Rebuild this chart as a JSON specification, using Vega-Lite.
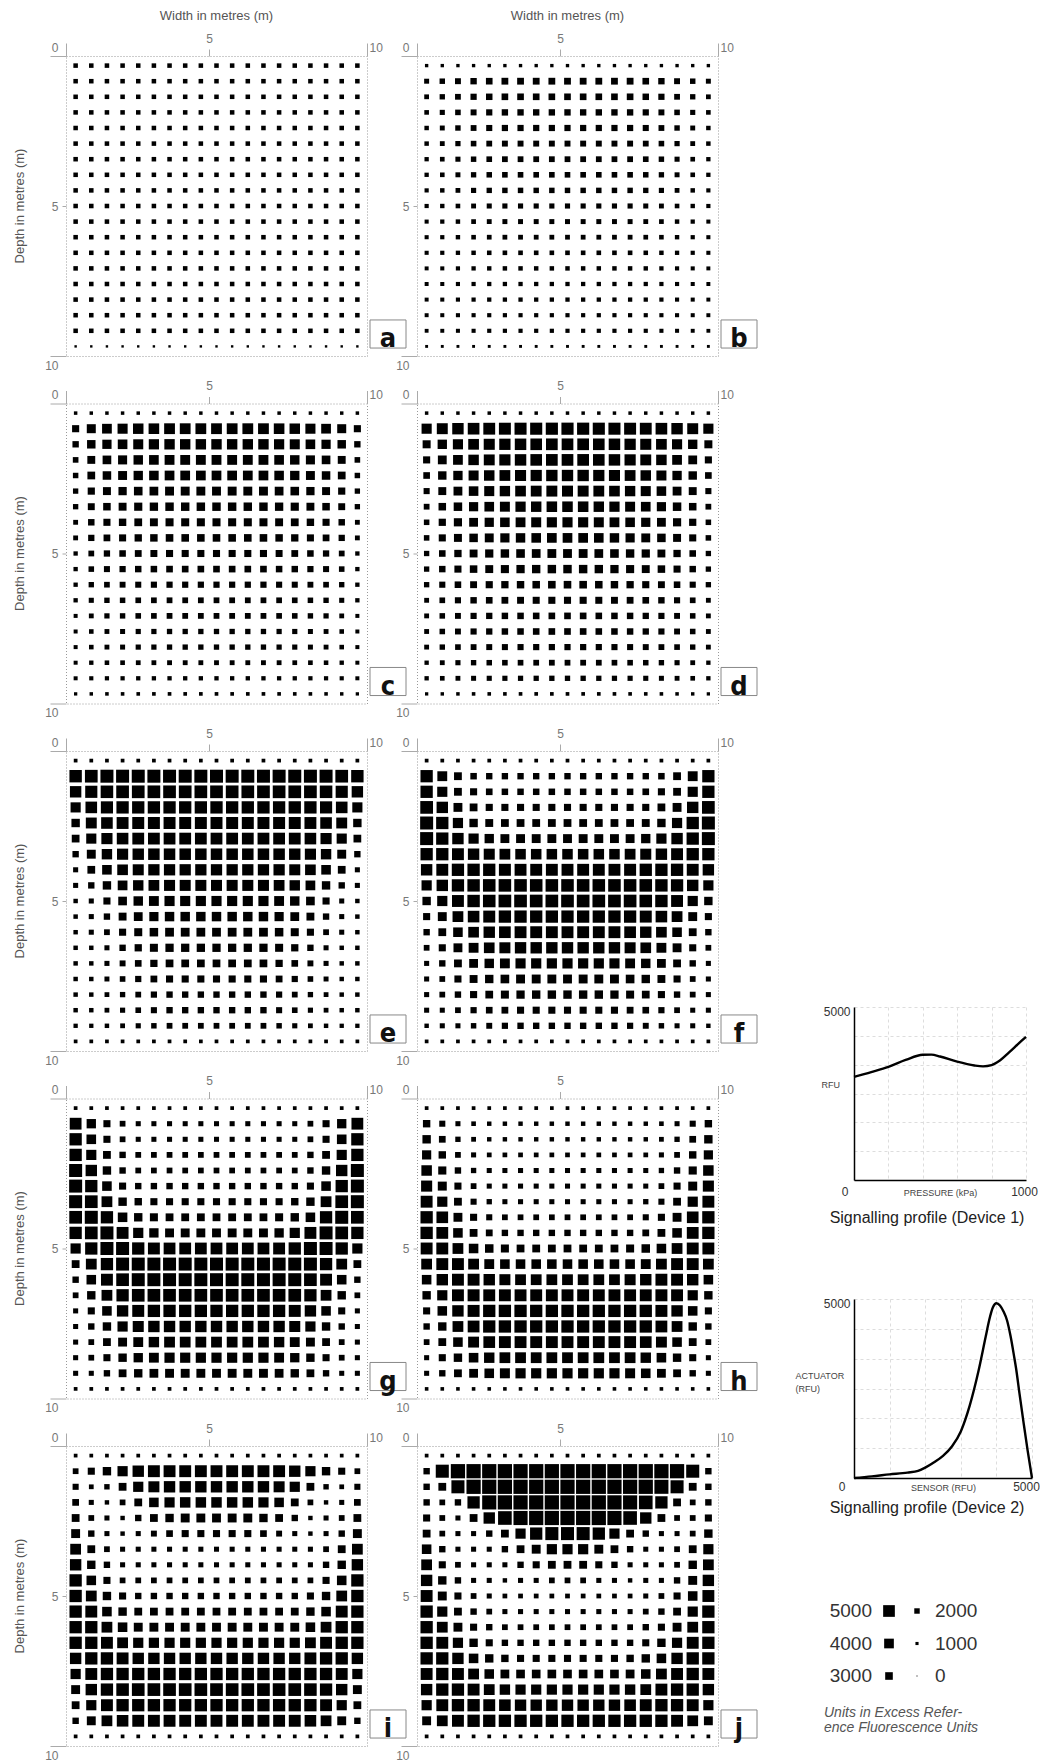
{
"$schema": "https://vega.github.io/schema/vega-lite/v6.json",
"padding": {"left": 13, "top": 10, "right": 0, "bottom": 0},
"background": "white",
"config": {
  "view": {"stroke": "#999", "strokeDash": [1, 2], "strokeWidth": 1},
  "font": "Liberation Sans",
  "axis": {"labelFont": "Liberation Sans", "titleFont": "Liberation Sans"},
  "header": {"labelFont": "Liberation Sans"},
  "title": {"font": "Liberation Sans"}
},
"datasets": {
  "cols": [{"col":1,"x":0.32},{"col":2,"x":0.84},{"col":3,"x":1.36},{"col":4,"x":1.88},{"col":5,"x":2.4},{"col":6,"x":2.92},{"col":7,"x":3.44},{"col":8,"x":3.96},{"col":9,"x":4.48},{"col":10,"x":5},{"col":11,"x":5.52},{"col":12,"x":6.04},{"col":13,"x":6.56},{"col":14,"x":7.08},{"col":15,"x":7.6},{"col":16,"x":8.12},{"col":17,"x":8.64},{"col":18,"x":9.16},{"col":19,"x":9.68}],
  "panels": [{"p":"a","r":1,"c":1},{"p":"b","r":1,"c":2},{"p":"c","r":2,"c":1},{"p":"d","r":2,"c":2},{"p":"e","r":3,"c":1},{"p":"f","r":3,"c":2},{"p":"g","r":4,"c":1},{"p":"h","r":4,"c":2},{"p":"i","r":5,"c":1},{"p":"j","r":5,"c":2}],
  "one": [{}],
  "legend": [{"v":5000,"side":"L","k":1},{"v":4000,"side":"L","k":2},{"v":3000,"side":"L","k":3},{"v":2000,"side":"R","k":1},{"v":1000,"side":"R","k":2},{"v":0,"side":"R","k":3}],
  "dev1": [{"pressure":0,"rfu":2980},{"pressure":100,"rfu":3120},{"pressure":200,"rfu":3270},{"pressure":300,"rfu":3470},{"pressure":400,"rfu":3620},{"pressure":450,"rfu":3625},{"pressure":500,"rfu":3570},{"pressure":600,"rfu":3420},{"pressure":700,"rfu":3310},{"pressure":750,"rfu":3285},{"pressure":800,"rfu":3320},{"pressure":850,"rfu":3460},{"pressure":900,"rfu":3680},{"pressure":950,"rfu":3910},{"pressure":1000,"rfu":4140}],
  "dev2": [{"sensor":0,"actuator":0},{"sensor":500,"actuator":45},{"sensor":1000,"actuator":100},{"sensor":1500,"actuator":150},{"sensor":1800,"actuator":200},{"sensor":2000,"actuator":290},{"sensor":2250,"actuator":440},{"sensor":2500,"actuator":620},{"sensor":2750,"actuator":880},{"sensor":3000,"actuator":1300},{"sensor":3250,"actuator":2020},{"sensor":3500,"actuator":3000},{"sensor":3700,"actuator":3950},{"sensor":3800,"actuator":4420},{"sensor":3900,"actuator":4760},{"sensor":4000,"actuator":4880},{"sensor":4100,"actuator":4820},{"sensor":4200,"actuator":4650},{"sensor":4300,"actuator":4400},{"sensor":4400,"actuator":3950},{"sensor":4500,"actuator":3380},{"sensor":4550,"actuator":3080},{"sensor":4650,"actuator":2350},{"sensor":4770,"actuator":1500},{"sensor":4880,"actuator":750},{"sensor":5000,"actuator":0}],
  "grid": [
{"p":"a","y":0.32,"v":[1600,1600,1600,1600,1600,1600,1600,1600,1600,1600,1600,1600,1600,1600,1600,1600,1600,1600,1600]},
{"p":"a","y":0.84,"v":[1600,1600,1600,1600,1600,1600,1600,1600,1600,1600,1600,1600,1600,1600,1600,1600,1600,1600,1600]},
{"p":"a","y":1.36,"v":[1600,1600,1600,1600,1600,1600,1600,1600,1600,1600,1600,1600,1600,1600,1600,1600,1600,1600,1600]},
{"p":"a","y":1.88,"v":[1600,1600,1600,1600,1600,1600,1600,1600,1600,1600,1600,1600,1600,1600,1600,1600,1600,1600,1600]},
{"p":"a","y":2.4,"v":[1600,1600,1600,1600,1600,1600,1600,1600,1600,1600,1600,1600,1600,1600,1600,1600,1600,1600,1600]},
{"p":"a","y":2.92,"v":[1600,1600,1600,1600,1600,1600,1600,1600,1600,1600,1600,1600,1600,1600,1600,1600,1600,1600,1600]},
{"p":"a","y":3.44,"v":[1600,1600,1600,1600,1600,1600,1600,1600,1600,1600,1600,1600,1600,1600,1600,1600,1600,1600,1600]},
{"p":"a","y":3.96,"v":[1600,1600,1600,1600,1600,1600,1600,1600,1600,1600,1600,1600,1600,1600,1600,1600,1600,1600,1600]},
{"p":"a","y":4.48,"v":[1600,1600,1600,1600,1600,1600,1600,1600,1600,1600,1600,1600,1600,1600,1600,1600,1600,1600,1600]},
{"p":"a","y":5,"v":[1600,1600,1600,1600,1600,1600,1600,1600,1600,1600,1600,1600,1600,1600,1600,1600,1600,1600,1600]},
{"p":"a","y":5.52,"v":[1600,1600,1600,1600,1600,1600,1600,1600,1600,1600,1600,1600,1600,1600,1600,1600,1600,1600,1600]},
{"p":"a","y":6.04,"v":[1600,1600,1600,1600,1600,1600,1600,1600,1600,1600,1600,1600,1600,1600,1600,1600,1600,1600,1600]},
{"p":"a","y":6.56,"v":[1600,1600,1600,1600,1600,1600,1600,1600,1600,1600,1600,1600,1600,1600,1600,1600,1600,1600,1600]},
{"p":"a","y":7.08,"v":[1600,1600,1600,1600,1600,1600,1600,1600,1600,1600,1600,1600,1600,1600,1600,1600,1600,1600,1600]},
{"p":"a","y":7.6,"v":[1600,1600,1600,1600,1600,1600,1600,1600,1600,1600,1600,1600,1600,1600,1600,1600,1600,1600,1600]},
{"p":"a","y":8.12,"v":[1600,1600,1600,1600,1600,1600,1600,1600,1600,1600,1600,1600,1600,1600,1600,1600,1600,1600,1600]},
{"p":"a","y":8.64,"v":[1600,1600,1600,1600,1600,1600,1600,1600,1600,1600,1600,1600,1600,1600,1600,1600,1600,1600,1600]},
{"p":"a","y":9.16,"v":[1600,1600,1600,1600,1600,1600,1600,1600,1600,1600,1600,1600,1600,1600,1600,1600,1600,1600,1600]},
{"p":"a","y":9.68,"v":[700,700,700,700,700,700,700,700,700,700,700,700,700,700,700,700,700,700,700]},
{"p":"b","y":0.32,"v":[1100,1100,1100,1100,1100,1100,1100,1100,1100,1100,1100,1100,1100,1100,1100,1100,1100,1100,1100]},
{"p":"b","y":0.84,"v":[1790,2010,2220,2420,2535,2620,2620,2620,2620,2620,2620,2620,2620,2620,2535,2420,2220,2010,1790]},
{"p":"b","y":1.36,"v":[1710,1950,2150,2350,2470,2550,2550,2550,2550,2550,2550,2550,2550,2550,2470,2350,2150,1950,1710]},
{"p":"b","y":1.88,"v":[1640,1860,2055,2235,2350,2420,2420,2420,2420,2420,2420,2420,2420,2420,2350,2235,2055,1860,1640]},
{"p":"b","y":2.4,"v":[1570,1770,1985,2165,2290,2350,2350,2350,2350,2350,2350,2350,2350,2350,2290,2165,1985,1770,1570]},
{"p":"b","y":2.92,"v":[1570,1725,1910,2070,2165,2220,2220,2220,2220,2220,2220,2220,2220,2220,2165,2070,1910,1725,1570]},
{"p":"b","y":3.44,"v":[1500,1655,1845,2000,2095,2150,2150,2150,2150,2150,2150,2150,2150,2150,2095,2000,1845,1655,1500]},
{"p":"b","y":3.96,"v":[1500,1640,1790,1950,2025,2080,2080,2080,2080,2080,2080,2080,2080,2080,2025,1950,1790,1640,1500]},
{"p":"b","y":4.48,"v":[1450,1570,1710,1870,1960,2010,2010,2010,2010,2010,2010,2010,2010,2010,1960,1870,1710,1570,1450]},
{"p":"b","y":5,"v":[1450,1540,1640,1755,1830,1870,1870,1870,1870,1870,1870,1870,1870,1870,1830,1755,1640,1540,1450]},
{"p":"b","y":5.52,"v":[1400,1480,1570,1680,1740,1790,1790,1790,1790,1790,1790,1790,1790,1790,1740,1680,1570,1480,1400]},
{"p":"b","y":6.04,"v":[1400,1460,1540,1625,1680,1710,1710,1710,1710,1710,1710,1710,1710,1710,1680,1625,1540,1460,1400]},
{"p":"b","y":6.56,"v":[1400,1450,1500,1570,1610,1640,1640,1640,1640,1640,1640,1640,1640,1640,1610,1570,1500,1450,1400]},
{"p":"b","y":7.08,"v":[1350,1400,1450,1500,1540,1570,1570,1570,1570,1570,1570,1570,1570,1570,1540,1500,1450,1400,1350]},
{"p":"b","y":7.6,"v":[1350,1390,1430,1460,1490,1500,1500,1500,1500,1500,1500,1500,1500,1500,1490,1460,1430,1390,1350]},
{"p":"b","y":8.12,"v":[1350,1390,1430,1460,1490,1500,1500,1500,1500,1500,1500,1500,1500,1500,1490,1460,1430,1390,1350]},
{"p":"b","y":8.64,"v":[1350,1380,1400,1430,1440,1450,1450,1450,1450,1450,1450,1450,1450,1450,1440,1430,1400,1380,1350]},
{"p":"b","y":9.16,"v":[1300,1340,1380,1410,1440,1450,1450,1450,1450,1450,1450,1450,1450,1450,1440,1410,1380,1340,1300]},
{"p":"b","y":9.68,"v":[900,900,900,900,900,900,900,900,900,900,900,900,900,900,900,900,900,900,900]},
{"p":"c","y":0.32,"v":[1150,1150,1150,1150,1150,1150,1150,1150,1150,1150,1150,1150,1150,1150,1150,1150,1150,1150,1150]},
{"p":"c","y":0.84,"v":[2760,3660,4020,4190,4375,4450,4540,4540,4540,4540,4540,4540,4540,4450,4375,4190,4020,3660,2760]},
{"p":"c","y":1.36,"v":[2420,3405,3775,3965,4160,4260,4350,4350,4350,4350,4350,4350,4350,4260,4160,3965,3775,3405,2420]},
{"p":"c","y":1.88,"v":[2080,3130,3500,3690,3880,3990,4080,4080,4080,4080,4080,4080,4080,3990,3880,3690,3500,3130,2080]},
{"p":"c","y":2.4,"v":[2010,3060,3430,3620,3820,3930,4020,4020,4020,4020,4020,4020,4020,3930,3820,3620,3430,3060,2010]},
{"p":"c","y":2.92,"v":[1950,2800,3160,3310,3465,3545,3620,3620,3620,3620,3620,3620,3620,3545,3465,3310,3160,2800,1950]},
{"p":"c","y":3.44,"v":[1950,2675,2960,3140,3260,3335,3395,3395,3395,3395,3395,3395,3395,3335,3260,3140,2960,2675,1950]},
{"p":"c","y":3.96,"v":[1740,2470,2760,2900,3075,3140,3200,3200,3200,3200,3200,3200,3200,3140,3075,2900,2760,2470,1740]},
{"p":"c","y":4.48,"v":[1740,2380,2605,2735,2860,2930,2990,2990,2990,2990,2990,2990,2990,2930,2860,2735,2605,2380,1740]},
{"p":"c","y":5,"v":[1510,2150,2390,2495,2620,2690,2750,2750,2750,2750,2750,2750,2750,2690,2620,2495,2390,2150,1510]},
{"p":"c","y":5.52,"v":[1510,2055,2260,2350,2460,2495,2550,2550,2550,2550,2550,2550,2550,2495,2460,2350,2260,2055,1510]},
{"p":"c","y":6.04,"v":[1510,1960,2110,2195,2275,2310,2350,2350,2350,2350,2350,2350,2350,2310,2275,2195,2110,1960,1510]},
{"p":"c","y":6.56,"v":[1510,1845,1970,2025,2095,2125,2150,2150,2150,2150,2150,2150,2150,2125,2095,2025,1970,1845,1510]},
{"p":"c","y":7.08,"v":[1370,1725,1910,1985,2070,2110,2150,2150,2150,2150,2150,2150,2150,2110,2070,1985,1910,1725,1370]},
{"p":"c","y":7.6,"v":[1370,1625,1740,1805,1885,1910,1950,1950,1950,1950,1950,1950,1950,1910,1885,1805,1740,1625,1370]},
{"p":"c","y":8.12,"v":[1370,1625,1740,1805,1885,1910,1950,1950,1950,1950,1950,1950,1950,1910,1885,1805,1740,1625,1370]},
{"p":"c","y":8.64,"v":[1370,1525,1610,1655,1695,1725,1740,1740,1740,1740,1740,1740,1740,1725,1695,1655,1610,1525,1370]},
{"p":"c","y":9.16,"v":[1370,1440,1470,1480,1500,1500,1510,1510,1510,1510,1510,1510,1510,1500,1500,1480,1470,1440,1370]},
{"p":"c","y":9.68,"v":[1080,1150,1180,1200,1210,1220,1230,1230,1230,1230,1230,1230,1230,1220,1210,1200,1180,1150,1080]},
{"p":"d","y":0.32,"v":[1150,1150,1150,1150,1150,1150,1150,1150,1150,1150,1150,1150,1150,1150,1150,1150,1150,1150,1150]},
{"p":"d","y":0.84,"v":[4220,4620,4850,4980,5070,5125,5175,5200,5230,5230,5230,5200,5175,5125,5070,4980,4850,4620,4220]},
{"p":"d","y":1.36,"v":[3190,3830,4220,4500,4675,4790,4900,4960,5000,5000,5000,4960,4900,4790,4675,4500,4220,3830,3190]},
{"p":"d","y":1.88,"v":[2760,3570,4030,4390,4600,4745,4880,4950,5000,5000,5000,4950,4880,4745,4600,4390,4030,3570,2760]},
{"p":"d","y":2.4,"v":[2550,3380,3820,4160,4390,4550,4675,4755,4830,4830,4830,4755,4675,4550,4390,4160,3820,3380,2550]},
{"p":"d","y":2.92,"v":[2290,3150,3585,3940,4175,4335,4480,4560,4620,4620,4620,4560,4480,4335,4175,3940,3585,3150,2290]},
{"p":"d","y":3.44,"v":[2150,2960,3420,3750,3980,4130,4270,4360,4420,4420,4420,4360,4270,4130,3980,3750,3420,2960,2150]},
{"p":"d","y":3.96,"v":[2040,2815,3270,3570,3775,3940,4070,4150,4220,4220,4220,4150,4070,3940,3775,3570,3270,2815,2040]},
{"p":"d","y":4.48,"v":[2040,2750,3160,3430,3620,3750,3870,3950,4000,4000,4000,3950,3870,3750,3620,3430,3160,2750,2040]},
{"p":"d","y":5,"v":[1950,2520,2860,3130,3290,3380,3480,3535,3585,3585,3585,3535,3480,3380,3290,3130,2860,2520,1950]},
{"p":"d","y":5.52,"v":[1950,2460,2750,2960,3140,3225,3310,3355,3395,3395,3395,3355,3310,3225,3140,2960,2750,2460,1950]},
{"p":"d","y":6.04,"v":[1950,2310,2510,2660,2775,2845,2915,2955,2990,2990,2990,2955,2915,2845,2775,2660,2510,2310,1950]},
{"p":"d","y":6.56,"v":[1740,2110,2310,2445,2550,2620,2675,2720,2750,2750,2750,2720,2675,2620,2550,2445,2310,2110,1740]},
{"p":"d","y":7.08,"v":[1740,2040,2210,2325,2390,2460,2495,2520,2550,2550,2550,2520,2495,2460,2390,2325,2210,2040,1740]},
{"p":"d","y":7.6,"v":[1740,2040,2210,2325,2390,2460,2495,2520,2550,2550,2550,2520,2495,2460,2390,2325,2210,2040,1740]},
{"p":"d","y":8.12,"v":[1740,1970,2095,2180,2235,2275,2310,2335,2350,2350,2350,2335,2310,2275,2235,2180,2095,1970,1740]},
{"p":"d","y":8.64,"v":[1510,1725,1870,1970,2025,2070,2110,2140,2150,2150,2150,2140,2110,2070,2025,1970,1870,1725,1510]},
{"p":"d","y":9.16,"v":[1510,1655,1740,1805,1860,1885,1910,1925,1950,1950,1950,1925,1910,1885,1860,1805,1740,1655,1510]},
{"p":"d","y":9.68,"v":[1080,1130,1160,1190,1200,1210,1220,1230,1230,1230,1230,1230,1220,1210,1200,1190,1160,1130,1080]},
{"p":"e","y":0.32,"v":[1250,1250,1250,1250,1250,1250,1250,1250,1250,1250,1250,1250,1250,1250,1250,1250,1250,1250,1250]},
{"p":"e","y":0.84,"v":[5350,5510,5660,5660,5660,5660,5660,5660,5660,5660,5660,5660,5660,5660,5660,5660,5660,5510,5350]},
{"p":"e","y":1.36,"v":[4850,5230,5430,5510,5510,5510,5510,5510,5510,5510,5510,5510,5510,5510,5510,5510,5430,5230,4850]},
{"p":"e","y":1.88,"v":[4220,4950,5230,5310,5310,5310,5310,5310,5310,5310,5310,5310,5310,5310,5310,5310,5230,4950,4220]},
{"p":"e","y":2.4,"v":[3370,4600,4950,5100,5140,5140,5140,5140,5140,5140,5140,5140,5140,5140,5140,5100,4950,4600,3370]},
{"p":"e","y":2.92,"v":[3060,4220,4720,4950,5050,5050,5050,5050,5050,5050,5050,5050,5050,5050,5050,4950,4720,4220,3060]},
{"p":"e","y":3.44,"v":[2420,3620,4350,4720,4850,4900,4900,4900,4900,4900,4900,4900,4900,4900,4850,4720,4350,3620,2420]},
{"p":"e","y":3.96,"v":[1830,3060,3950,4480,4660,4780,4780,4780,4780,4780,4780,4780,4780,4780,4660,4480,3950,3060,1830]},
{"p":"e","y":4.48,"v":[1830,2420,3370,4020,4350,4540,4660,4660,4660,4660,4660,4660,4660,4540,4350,4020,3370,2420,1830]},
{"p":"e","y":5,"v":[1570,1830,2760,3500,3880,4080,4220,4220,4220,4220,4220,4220,4220,4080,3880,3500,2760,1830,1570]},
{"p":"e","y":5.52,"v":[1570,1830,2420,3130,3560,3750,3880,3880,3880,3880,3880,3880,3880,3750,3560,3130,2420,1830,1570]},
{"p":"e","y":6.04,"v":[1570,1830,2150,2760,3190,3430,3560,3560,3560,3560,3560,3560,3560,3430,3190,2760,2150,1830,1570]},
{"p":"e","y":6.56,"v":[1570,1570,1830,2420,2830,3190,3310,3310,3310,3310,3310,3310,3310,3190,2830,2420,1830,1570,1570]},
{"p":"e","y":7.08,"v":[1570,1570,1830,2220,2550,2830,3060,3060,3060,3060,3060,3060,3060,2830,2550,2220,1830,1570,1570]},
{"p":"e","y":7.6,"v":[1570,1570,1790,2080,2350,2620,2760,2760,2760,2760,2760,2760,2760,2620,2350,2080,1790,1570,1570]},
{"p":"e","y":8.12,"v":[1570,1570,1710,1950,2150,2350,2420,2420,2420,2420,2420,2420,2420,2350,2150,1950,1710,1570,1570]},
{"p":"e","y":8.64,"v":[1570,1570,1710,1870,2080,2290,2420,2420,2420,2420,2420,2420,2420,2290,2080,1870,1710,1570,1570]},
{"p":"e","y":9.16,"v":[1500,1500,1570,1710,1870,2010,2150,2150,2150,2150,2150,2150,2150,2010,1870,1710,1570,1500,1500]},
{"p":"e","y":9.68,"v":[1250,1250,1250,1250,1250,1250,1250,1250,1250,1250,1250,1250,1250,1250,1250,1250,1250,1250,1250]},
{"p":"f","y":0.32,"v":[1250,1250,1250,1250,1250,1250,1250,1250,1250,1250,1250,1250,1250,1250,1250,1250,1250,1250,1250]},
{"p":"f","y":0.84,"v":[5300,4080,3090,2480,2420,2420,2420,2420,2420,2420,2420,2420,2420,2420,2420,2480,3090,4080,5300]},
{"p":"f","y":1.36,"v":[5300,4220,3090,2750,2550,2480,2480,2480,2480,2480,2480,2480,2480,2480,2550,2750,3090,4220,5300]},
{"p":"f","y":1.88,"v":[5510,4850,3610,3090,2760,2750,2750,2750,2750,2750,2750,2750,2750,2750,2760,3090,3610,4850,5510]},
{"p":"f","y":2.4,"v":[5660,5300,4250,3370,3130,3090,3090,3090,3090,3090,3090,3090,3090,3090,3130,3370,4250,5300,5660]},
{"p":"f","y":2.92,"v":[5660,5300,4850,4250,3820,3610,3610,3610,3610,3610,3610,3610,3610,3610,3820,4250,4850,5300,5660]},
{"p":"f","y":3.44,"v":[5300,5300,5100,4850,4660,4540,4410,4410,4410,4410,4410,4410,4410,4540,4660,4850,5100,5300,5300]},
{"p":"f","y":3.96,"v":[4850,5100,5300,5300,5300,5140,5100,5100,5100,5100,5100,5100,5100,5140,5300,5300,5300,5100,4850]},
{"p":"f","y":4.48,"v":[4250,4850,5300,5350,5430,5430,5430,5430,5430,5430,5430,5430,5430,5430,5430,5350,5300,4850,4250]},
{"p":"f","y":5,"v":[3370,4250,5100,5350,5430,5500,5500,5500,5500,5500,5500,5500,5500,5500,5430,5350,5100,4250,3370]},
{"p":"f","y":5.52,"v":[2750,3610,4540,4950,5140,5300,5300,5300,5300,5300,5300,5300,5300,5300,5140,4950,4540,3610,2750]},
{"p":"f","y":6.04,"v":[2430,3090,3930,4480,4850,5000,5100,5100,5100,5100,5100,5100,5100,5000,4850,4480,3930,3090,2430]},
{"p":"f","y":6.56,"v":[2140,2750,3610,4080,4480,4660,4840,4840,4840,4840,4840,4840,4840,4660,4480,4080,3610,2750,2140]},
{"p":"f","y":7.08,"v":[1830,2430,3090,3560,3880,4080,4220,4250,4250,4250,4250,4250,4220,4080,3880,3560,3090,2430,1830]},
{"p":"f","y":7.6,"v":[1830,2140,2750,3130,3370,3500,3610,3610,3610,3610,3610,3610,3610,3500,3370,3130,2750,2140,1830]},
{"p":"f","y":8.12,"v":[1830,2140,2430,2760,3060,3190,3310,3370,3370,3370,3370,3370,3310,3190,3060,2760,2430,2140,1830]},
{"p":"f","y":8.64,"v":[1830,1830,2140,2350,2550,2620,2750,2750,2750,2750,2750,2750,2750,2620,2550,2350,2140,1830,1830]},
{"p":"f","y":9.16,"v":[1555,1830,1830,2010,2220,2350,2430,2430,2430,2430,2430,2430,2430,2350,2220,2010,1830,1830,1555]},
{"p":"f","y":9.68,"v":[1250,1250,1250,1250,1250,1250,1250,1250,1250,1250,1250,1250,1250,1250,1250,1250,1250,1250,1250]},
{"p":"g","y":0.32,"v":[1250,1250,1250,1250,1250,1250,1250,1250,1250,1250,1250,1250,1250,1250,1250,1250,1250,1250,1250]},
{"p":"g","y":0.84,"v":[5050,3820,2750,2140,1830,1830,1830,1830,1830,1830,1830,1830,1830,1830,1830,2140,2750,3820,5050]},
{"p":"g","y":1.36,"v":[5300,3950,2750,2140,1830,1830,1830,1830,1830,1830,1830,1830,1830,1830,1830,2140,2750,3950,5300]},
{"p":"g","y":1.88,"v":[5300,4220,3090,2430,2140,2140,2140,2140,2140,2140,2140,2140,2140,2140,2140,2430,3090,4220,5300]},
{"p":"g","y":2.4,"v":[5660,4840,3370,2430,2140,2140,2140,2140,2140,2140,2140,2140,2140,2140,2140,2430,3370,4840,5660]},
{"p":"g","y":2.92,"v":[5660,5300,3930,2750,2430,2430,2430,2430,2430,2430,2430,2430,2430,2430,2430,2750,3930,5300,5660]},
{"p":"g","y":3.44,"v":[5660,5510,4540,3370,2900,2750,2750,2750,2750,2750,2750,2750,2750,2750,2900,3370,4540,5510,5660]},
{"p":"g","y":3.96,"v":[5510,5660,5300,3930,3370,3190,3090,3090,3090,3090,3090,3090,3090,3190,3370,3930,5300,5660,5510]},
{"p":"g","y":4.48,"v":[5300,5510,5660,5100,4250,3820,3610,3610,3610,3610,3610,3610,3610,3820,4250,5100,5660,5510,5300]},
{"p":"g","y":5,"v":[4250,5300,5660,5660,5300,5100,5050,5050,5050,5050,5050,5050,5050,5100,5300,5660,5660,5300,4250]},
{"p":"g","y":5.52,"v":[3090,4540,5300,5660,5660,5660,5660,5660,5660,5660,5660,5660,5660,5660,5660,5660,5300,4540,3090]},
{"p":"g","y":6.04,"v":[2430,3930,5100,5500,5660,5660,5660,5660,5660,5660,5660,5660,5660,5660,5660,5500,5100,3930,2430]},
{"p":"g","y":6.56,"v":[2140,3370,4540,5300,5500,5500,5500,5500,5500,5500,5500,5500,5500,5500,5500,5300,4540,3370,2140]},
{"p":"g","y":7.08,"v":[1830,2750,3930,4840,5140,5300,5300,5300,5300,5300,5300,5300,5300,5300,5140,4840,3930,2750,1830]},
{"p":"g","y":7.6,"v":[1830,2430,3370,4250,4660,4840,4840,4840,4840,4840,4840,4840,4840,4840,4660,4250,3370,2430,1830]},
{"p":"g","y":8.12,"v":[1830,2140,3090,3610,4080,4350,4540,4540,4540,4540,4540,4540,4540,4350,4080,3610,3090,2140,1830]},
{"p":"g","y":8.64,"v":[1830,2140,2750,3370,3820,4080,4250,4250,4250,4250,4250,4250,4250,4080,3820,3370,2750,2140,1830]},
{"p":"g","y":9.16,"v":[1830,1830,2430,3090,3370,3560,3610,3610,3610,3610,3610,3610,3610,3560,3370,3090,2430,1830,1830]},
{"p":"g","y":9.68,"v":[1250,1250,1250,1250,1250,1250,1250,1250,1250,1250,1250,1250,1250,1250,1250,1250,1250,1250,1250]},
{"p":"h","y":0.32,"v":[1250,1250,1250,1250,1250,1250,1250,1250,1250,1250,1250,1250,1250,1250,1250,1250,1250,1250,1250]},
{"p":"h","y":0.84,"v":[2900,2290,1830,1640,1555,1555,1555,1555,1555,1555,1555,1555,1555,1555,1555,1640,1830,2290,2900]},
{"p":"h","y":1.36,"v":[3370,2580,1950,1710,1555,1555,1555,1555,1555,1555,1555,1555,1555,1555,1555,1710,1950,2580,3370]},
{"p":"h","y":1.88,"v":[3750,2900,2140,1830,1695,1680,1680,1680,1680,1680,1680,1680,1680,1680,1695,1830,2140,2900,3750]},
{"p":"h","y":2.4,"v":[4400,3240,2430,1950,1830,1830,1830,1830,1830,1830,1830,1830,1830,1830,1830,1950,2430,3240,4400]},
{"p":"h","y":2.92,"v":[4690,3645,2750,2140,1830,1830,1830,1830,1830,1830,1830,1830,1830,1830,1830,2140,2750,3645,4690]},
{"p":"h","y":3.44,"v":[5100,4250,3090,2290,1950,1830,1830,1830,1830,1830,1830,1830,1830,1830,1950,2290,3090,4250,5100]},
{"p":"h","y":3.96,"v":[5300,4970,3610,2750,2290,2140,2140,2140,2140,2140,2140,2140,2140,2140,2290,2750,3610,4970,5300]},
{"p":"h","y":4.48,"v":[5300,5050,3930,3090,2620,2430,2430,2430,2430,2430,2430,2430,2430,2430,2620,3090,3930,5050,5300]},
{"p":"h","y":5,"v":[5100,5100,4540,3930,3430,3190,3090,3090,3090,3090,3090,3090,3090,3190,3430,3930,4540,5100,5100]},
{"p":"h","y":5.52,"v":[4540,5100,5100,4540,4080,3950,3930,3930,3930,3930,3930,3930,3930,3950,4080,4540,5100,5100,4540]},
{"p":"h","y":6.04,"v":[3930,4840,5100,5100,4850,4660,4540,4540,4540,4540,4540,4540,4540,4660,4850,5100,5100,4840,3930]},
{"p":"h","y":6.56,"v":[3370,4250,5100,5140,5100,5100,5100,5100,5100,5100,5100,5100,5100,5100,5100,5140,5100,4250,3370]},
{"p":"h","y":7.08,"v":[2750,3930,4840,5140,5300,5300,5300,5300,5300,5300,5300,5300,5300,5300,5300,5140,4840,3930,2750]},
{"p":"h","y":7.6,"v":[2430,3370,4540,5050,5300,5300,5300,5300,5300,5300,5300,5300,5300,5300,5300,5050,4540,3370,2430]},
{"p":"h","y":8.12,"v":[2140,3090,3930,4600,5000,5100,5100,5100,5100,5100,5100,5100,5100,5100,5000,4600,3930,3090,2140]},
{"p":"h","y":8.64,"v":[1830,2750,3370,3950,4350,4540,4540,4540,4540,4540,4540,4540,4540,4540,4350,3950,3370,2750,1830]},
{"p":"h","y":9.16,"v":[1830,2430,3090,3560,3950,4150,4250,4250,4250,4250,4250,4250,4250,4150,3950,3560,3090,2430,1830]},
{"p":"h","y":9.68,"v":[1200,1200,1200,1200,1200,1200,1200,1200,1200,1200,1200,1200,1200,1200,1200,1200,1200,1200,1200]},
{"p":"i","y":0.32,"v":[1250,1250,1250,1250,1250,1250,1250,1250,1250,1250,1250,1250,1250,1250,1250,1250,1250,1250,1250]},
{"p":"i","y":0.84,"v":[2140,2750,3370,4250,4840,5100,5100,5100,5100,5100,5100,5100,5100,5100,4840,4250,3370,2750,2140]},
{"p":"i","y":1.36,"v":[2290,1695,1985,3090,4250,4660,4840,4840,4840,4840,4840,4840,4840,4660,4250,3090,1985,1695,2290]},
{"p":"i","y":1.88,"v":[2580,1830,1555,2140,3090,3930,4250,4390,4390,4390,4390,4390,4250,3930,3090,2140,1555,1830,2580]},
{"p":"i","y":2.4,"v":[3090,2140,1830,1555,2430,3090,3370,3610,3610,3610,3610,3610,3370,3090,2430,1555,1830,2140,3090]},
{"p":"i","y":2.92,"v":[3610,2430,1830,1555,1830,2220,2565,2750,2750,2750,2750,2750,2565,2220,1830,1555,1830,2430,3610]},
{"p":"i","y":3.44,"v":[4540,3090,2140,1830,1830,1830,1830,1830,1830,1830,1830,1830,1830,1830,1830,1830,2140,3090,4540]},
{"p":"i","y":3.96,"v":[4840,3370,2430,1830,1830,1830,1830,1830,1830,1830,1830,1830,1830,1830,1830,1830,2430,3370,4840]},
{"p":"i","y":4.48,"v":[5300,3930,2750,2140,2140,2140,2140,2140,2140,2140,2140,2140,2140,2140,2140,2140,2750,3930,5300]},
{"p":"i","y":5,"v":[5300,4540,3370,2750,2430,2430,2430,2430,2430,2430,2430,2430,2430,2430,2430,2750,3370,4540,5300]},
{"p":"i","y":5.52,"v":[5300,5100,3930,3370,3090,3090,3090,3090,3090,3090,3090,3090,3090,3090,3090,3370,3930,5100,5300]},
{"p":"i","y":6.04,"v":[5300,5300,4540,3930,3610,3610,3610,3610,3610,3610,3610,3610,3610,3610,3610,3930,4540,5300,5300]},
{"p":"i","y":6.56,"v":[5300,5300,5100,4540,4250,4250,4250,4250,4250,4250,4250,4250,4250,4250,4250,4540,5100,5300,5300]},
{"p":"i","y":7.08,"v":[4840,5300,5300,5100,4840,4840,4840,4840,4840,4840,4840,4840,4840,4840,4840,5100,5300,5300,4840]},
{"p":"i","y":7.6,"v":[4250,5100,5300,5300,5300,5300,5300,5300,5300,5300,5300,5300,5300,5300,5300,5300,5300,5100,4250]},
{"p":"i","y":8.12,"v":[3610,4840,5300,5430,5500,5500,5500,5500,5500,5500,5500,5500,5500,5500,5500,5430,5300,4840,3610]},
{"p":"i","y":8.64,"v":[3090,4250,5100,5300,5300,5300,5300,5300,5300,5300,5300,5300,5300,5300,5300,5300,5100,4250,3090]},
{"p":"i","y":9.16,"v":[2430,3610,4540,4950,5100,5100,5100,5100,5100,5100,5100,5100,5100,5100,5100,4950,4540,3610,2430]},
{"p":"i","y":9.68,"v":[1250,1250,1250,1250,1250,1250,1250,1250,1250,1250,1250,1250,1250,1250,1250,1250,1250,1250,1250]},
{"p":"j","y":0.32,"v":[1250,1250,1250,1250,1250,1250,1250,1250,1250,1250,1250,1250,1250,1250,1250,1250,1250,1250,1250]},
{"p":"j","y":0.84,"v":[2430,5690,6300,6300,6300,6300,6300,6300,6300,6300,6300,6300,6300,6300,6300,6300,6300,5690,2430]},
{"p":"j","y":1.36,"v":[2430,3090,5690,6300,6300,6300,6300,6300,6300,6300,6300,6300,6300,6300,6300,6200,5690,3090,2430]},
{"p":"j","y":1.88,"v":[2430,2140,2430,5300,6250,6300,6300,6300,6300,6300,6300,6300,6300,6250,6000,5300,3090,2140,2430]},
{"p":"j","y":2.4,"v":[2750,2140,1830,3090,4840,6000,6250,6300,6300,6300,6300,6300,6250,6000,4840,3090,2140,2140,2750]},
{"p":"j","y":2.92,"v":[3090,2140,1830,1830,2430,3090,4250,5300,5690,5690,5690,5300,4250,3090,2430,1830,1830,2140,3370]},
{"p":"j","y":3.44,"v":[3930,2430,1830,1830,1830,2430,3090,3610,4250,4250,4250,3610,3090,2430,1830,1830,2140,3090,4250]},
{"p":"j","y":3.96,"v":[4540,2750,2140,1830,1830,1830,2430,2750,3090,3090,3090,2750,2430,1830,1830,1830,2140,3370,4540]},
{"p":"j","y":4.48,"v":[4840,3370,2430,1830,1830,1555,1830,1830,2140,2140,2140,1830,1830,1555,1830,1830,2430,3610,4840]},
{"p":"j","y":5,"v":[5100,3610,2750,2140,1830,1695,1695,1695,1695,1695,1695,1695,1695,1695,1830,2140,2750,3930,5100]},
{"p":"j","y":5.52,"v":[5300,4250,3090,2430,2140,1830,1830,1830,1830,1830,1830,1830,1830,1830,2140,2430,3090,4250,5300]},
{"p":"j","y":6.04,"v":[5300,4540,3610,2750,2430,2140,2140,2140,2140,2140,2140,2140,2140,2140,2430,2750,3610,4540,5300]},
{"p":"j","y":6.56,"v":[5300,5100,4250,3370,2750,2430,2430,2430,2430,2430,2430,2430,2430,2430,2750,3370,4250,5100,5300]},
{"p":"j","y":7.08,"v":[5300,5300,4840,3930,3370,2900,2750,2750,2750,2750,2750,2750,2750,2900,3370,3930,4840,5300,5300]},
{"p":"j","y":7.6,"v":[5100,5300,5100,4540,3930,3560,3500,3500,3500,3500,3500,3500,3500,3560,3930,4540,5100,5300,5100]},
{"p":"j","y":8.12,"v":[4840,5300,5300,5100,4540,4350,4250,4250,4250,4250,4250,4250,4250,4350,4540,5100,5300,5300,4840]},
{"p":"j","y":8.64,"v":[4250,5100,5300,5300,5100,4950,4840,4840,4840,4840,4840,4840,4840,4950,5100,5300,5300,5100,4250]},
{"p":"j","y":9.16,"v":[3610,4540,5100,5300,5300,5300,5300,5300,5300,5300,5300,5300,5300,5300,5300,5300,5100,4540,3610]},
{"p":"j","y":9.68,"v":[1250,1250,1250,1250,1250,1250,1250,1250,1250,1250,1250,1250,1250,1250,1250,1250,1250,1250,1250]}
  ]
},
"hconcat": [
  {
    "data": {"name": "grid"},
    "transform": [
      {"flatten": ["v"]},
      {"window": [{"op": "row_number", "as": "col"}], "groupby": ["p", "y"]},
      {"lookup": "col", "from": {"data": {"name": "cols"}, "key": "col", "fields": ["x"]}},
      {"lookup": "p", "from": {"data": {"name": "panels"}, "key": "p", "fields": ["r", "c"]}}
    ],
    "facet": {
      "row": {"field": "r", "type": "ordinal", "title": null, "header": {"title": null, "labelExpr": "'Depth in metres (m)'", "labelAngle": -90, "labelOrient": "left", "labelAlign": "center", "labelFontSize": 13, "labelColor": "#555", "labelPadding": 33}},
      "column": {"field": "c", "type": "ordinal", "title": null, "header": {"title": null, "labelExpr": "'Width in metres (m)'", "labelFontSize": 13, "labelColor": "#555", "labelPadding": 33}}
    },
    "spacing": {"row": 47.5, "column": 50},
    "bounds": "flush",
    "resolve": {"axis": {"x": "independent", "y": "independent"}},
    "spec": {
      "width": 301,
      "height": 300,
      "layer": [
        {
          "mark": {"type": "square", "color": "black", "opacity": 1},
          "encoding": {
            "x": {"field": "x", "type": "quantitative", "scale": {"domain": [0, 10], "nice": false, "zero": false},
              "axis": {"orient": "top", "title": null, "values": [0, 4.75, 10], "domain": false, "grid": false, "ticks": true, "tickColor": "#aaa", "tickWidth": 1,
                "tickSize": {"condition": {"test": "datum.value == 4.75", "value": 7}, "value": 13},
                "labelExpr": "datum.value == 0 ? '' : (datum.value == 10 ? '10' : '5')",
                "labelAlign": {"condition": {"test": "datum.value == 10", "value": "left"}, "value": "center"},
                "labelPadding": {"condition": {"test": "datum.value == 10", "value": -11}, "value": 4},
                "labelOffset": {"condition": {"test": "datum.value == 10", "value": 2}, "value": 0},
                "labelFontSize": 12, "labelColor": "#777", "labelFlush": false, "labelOverlap": false, "labelBound": false}},
            "y": {"field": "y", "type": "quantitative", "scale": {"domain": [0, 10], "reverse": true, "nice": false, "zero": false},
              "axis": {"orient": "left", "title": null, "values": [0, 5, 10], "domain": false, "grid": false, "tickColor": "#aaa", "tickWidth": 1,
                "tickSize": {"condition": {"test": "datum.value == 5", "value": 4}, "value": 16},
                "labelPadding": {"condition": {"test": "datum.value == 5", "value": 4}, "value": -8},
                "labelBaseline": {"condition": [{"test": "datum.value == 0", "value": "bottom"}, {"test": "datum.value == 10", "value": "top"}], "value": "middle"},
                "labelOffset": {"condition": [{"test": "datum.value == 0", "value": -2}, {"test": "datum.value == 10", "value": 4}], "value": 0},
                "labelFontSize": 12, "labelColor": "#777", "labelFlush": false, "labelOverlap": false, "labelBound": false}},
            "size": {"field": "v", "type": "quantitative", "scale": {"type": "pow", "exponent": 1.7, "domain": [0, 5000], "range": [1, 137]}, "legend": null}
          }
        },
        {
          "transform": [{"aggregate": [{"op": "count", "as": "n"}], "groupby": ["p", "r", "c"]}],
          "mark": {"type": "point", "shape": "M-1,-0.78L1,-0.78L1,0.78L-1,0.78Z", "size": 1296, "filled": true, "fill": "white", "stroke": "#888", "strokeWidth": 1, "opacity": 1, "xOffset": 21, "yOffset": -22},
          "encoding": {"x": {"datum": 10, "type": "quantitative"}, "y": {"datum": 10, "type": "quantitative"}}
        },
        {
          "transform": [{"aggregate": [{"op": "count", "as": "n"}], "groupby": ["p", "r", "c"]}],
          "mark": {"type": "text", "font": "Liberation Sans Narrow, DejaVu Sans Condensed, sans-serif", "fontWeight": "bold", "fontSize": 27, "align": "center", "baseline": "alphabetic", "dx": 21, "dy": -9, "color": "#111"},
          "encoding": {"x": {"datum": 10, "type": "quantitative"}, "y": {"datum": 10, "type": "quantitative"}, "text": {"field": "p", "type": "nominal"}}
        }
      ]
    }
  },
  {
    "spacing": 0,
    "bounds": "flush",
    "vconcat": [
      {"width": 172, "height": 951, "data": {"name": "one"}, "mark": {"type": "point", "opacity": 0}, "view": {"stroke": null, "fill": "white"}},
      {
        "width": 172, "height": 173,
        "view": {"stroke": null},
        "data": {"name": "dev1"},
        "mark": {"type": "line", "color": "black", "strokeWidth": 2.4, "interpolate": "monotone"},
        "encoding": {
          "x": {"field": "pressure", "type": "quantitative", "scale": {"domain": [0, 1000], "nice": false},
            "axis": {"values": [0, 200, 400, 600, 800, 1000], "labelExpr": "datum.value == 0 ? '0' : (datum.value == 1000 ? '1000' : '')",
              "title": "PRESSURE (kPa)", "titleFontSize": 9, "titleFontWeight": "normal", "titleColor": "#444", "titleY": 12, "titleBaseline": "middle",
              "domainColor": "black", "domainWidth": 1.5, "ticks": false, "grid": true, "gridColor": "#ddd", "gridDash": [3, 3],
              "labelFontSize": 12, "labelColor": "#333", "labelPadding": 6,
              "labelAlign": {"condition": {"test": "datum.value == 0", "value": "right"}, "value": "center"},
              "labelOffset": {"condition": {"test": "datum.value == 0", "value": -6}, "value": -2},
              "labelFlush": false, "labelOverlap": false}},
          "y": {"field": "rfu", "type": "quantitative", "scale": {"domain": [0, 5000], "nice": false},
            "axis": {"values": [0, 833.33, 1666.67, 2500, 3333.33, 4166.67, 5000], "labelExpr": "datum.value == 5000 ? '5000' : ''",
              "title": "RFU", "titleAngle": 0, "titleAlign": "left", "titleBaseline": "middle", "titleX": -33, "titleY": 77, "titleFontSize": 9, "titleFontWeight": "normal", "titleColor": "#444",
              "domainColor": "black", "domainWidth": 1.5, "ticks": false, "grid": true, "gridColor": "#ddd", "gridDash": [3, 3],
              "labelFontSize": 12, "labelColor": "#333", "labelPadding": 4, "labelOffset": 4, "labelFlush": false, "labelOverlap": false}}
        },
        "title": {"text": "Signalling profile (Device 1)", "orient": "bottom", "fontSize": 16, "fontWeight": "normal", "color": "#222", "offset": 13, "dx": -13, "anchor": "middle"}
      },
      {"width": 172, "height": 119, "data": {"name": "one"}, "mark": {"type": "point", "opacity": 0}, "view": {"stroke": null}},
      {
        "width": 178, "height": 179,
        "view": {"stroke": null},
        "data": {"name": "dev2"},
        "mark": {"type": "line", "color": "black", "strokeWidth": 2.4, "interpolate": "monotone"},
        "encoding": {
          "x": {"field": "sensor", "type": "quantitative", "scale": {"domain": [0, 5000], "nice": false},
            "axis": {"values": [0, 1000, 2000, 3000, 4000, 5000], "labelExpr": "datum.value == 0 ? '0' : (datum.value == 5000 ? '5000' : '')",
              "title": "SENSOR (RFU)", "titleFontSize": 9, "titleFontWeight": "normal", "titleColor": "#444", "titleY": 9, "titleBaseline": "middle",
              "domainColor": "black", "domainWidth": 1.5, "ticks": false, "grid": true, "gridColor": "#ddd", "gridDash": [3, 3],
              "labelFontSize": 12, "labelColor": "#333", "labelPadding": 3,
              "labelAlign": {"condition": {"test": "datum.value == 0", "value": "right"}, "value": "center"},
              "labelOffset": {"condition": {"test": "datum.value == 0", "value": -9}, "value": -6},
              "labelFlush": false, "labelOverlap": false}},
          "y": {"field": "actuator", "type": "quantitative", "scale": {"domain": [0, 5000], "nice": false},
            "axis": {"values": [0, 833.33, 1666.67, 2500, 3333.33, 4166.67, 5000], "labelExpr": "datum.value == 5000 ? '5000' : ''",
              "title": ["ACTUATOR", "(RFU)"], "titleAngle": 0, "titleAlign": "left", "titleBaseline": "top", "titleX": -59, "titleY": 72, "titleLineHeight": 13, "titleFontSize": 9, "titleFontWeight": "normal", "titleColor": "#444",
              "domainColor": "black", "domainWidth": 1.5, "ticks": false, "grid": true, "gridColor": "#ddd", "gridDash": [3, 3],
              "labelFontSize": 12, "labelColor": "#333", "labelPadding": 4, "labelOffset": 4, "labelFlush": false, "labelOverlap": false}}
        },
        "title": {"text": "Signalling profile (Device 2)", "orient": "bottom", "fontSize": 16, "fontWeight": "normal", "color": "#222", "offset": 8, "dx": -16, "anchor": "middle"}
      },
      {"width": 172, "height": 133, "data": {"name": "one"}, "mark": {"type": "point", "opacity": 0}, "view": {"stroke": null}},
      {
        "width": 102, "height": 65,
        "view": {"stroke": null},
        "data": {"name": "legend"},
        "encoding": {
          "x": {"field": "side", "type": "nominal", "scale": {"type": "point", "range": [35, 63], "padding": 0}, "axis": null},
          "y": {"field": "k", "type": "ordinal", "scale": {"type": "point", "range": [0, 65], "padding": 0}, "axis": null}
        },
        "layer": [
          {"mark": {"type": "square", "color": "black", "opacity": 1},
           "encoding": {"size": {"field": "v", "type": "quantitative", "scale": {"type": "pow", "exponent": 1.7, "domain": [0, 5000], "range": [1, 137]}, "legend": null}}},
          {"transform": [{"filter": "datum.side == 'L'"}],
           "mark": {"type": "text", "align": "right", "baseline": "middle", "dx": -17, "fontSize": 19, "color": "#333"},
           "encoding": {"text": {"field": "v", "type": "quantitative", "format": "d"}}},
          {"transform": [{"filter": "datum.side == 'R'"}],
           "mark": {"type": "text", "align": "left", "baseline": "middle", "dx": 18, "fontSize": 19, "color": "#333"},
           "encoding": {"text": {"field": "v", "type": "quantitative", "format": "d"}}}
        ],
        "title": {"text": ["Units in Excess Refer-", "ence Fluorescence Units"], "orient": "bottom", "anchor": "start", "frame": "group", "align": "left", "dx": -30, "offset": 20, "fontSize": 14, "fontStyle": "italic", "fontWeight": "normal", "color": "#555", "lineHeight": 15}
      }
    ]
  }
],
"spacing": 35
}
